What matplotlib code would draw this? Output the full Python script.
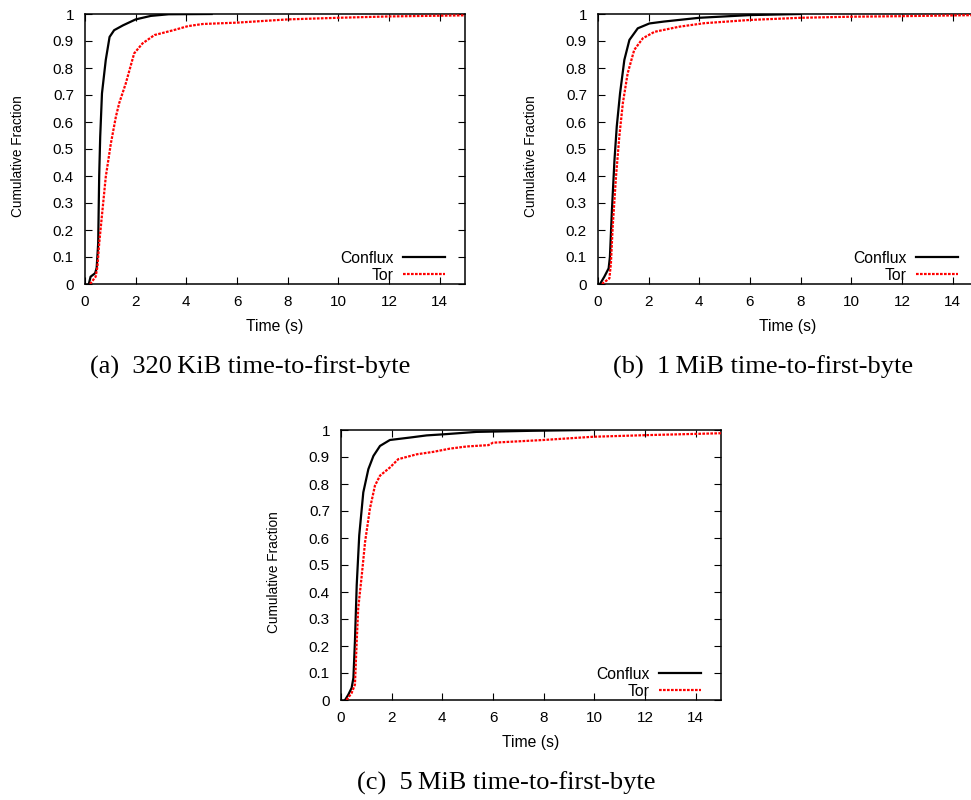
import matplotlib
matplotlib.use("Agg")
import matplotlib.pyplot as plt
from matplotlib.ticker import FuncFormatter

plt.rcParams['font.family'] = ['Liberation Sans', 'DejaVu Sans']

# time-to-first-byte CDFs, times in seconds
a_conflux_t = [0.15, 0.22, 0.4, 0.46, 0.52, 0.56, 0.6, 0.67, 0.82, 0.97, 1.15, 1.5, 2.0, 2.6, 3.3, 5.0]
a_conflux_f = [0.0, 0.027, 0.04, 0.06, 0.15, 0.40, 0.545, 0.706, 0.83, 0.915, 0.94, 0.958, 0.98, 0.993, 0.999, 1.0]
a_tor_t = [0.2, 0.42, 0.49, 0.56, 0.69, 0.82, 1.02, 1.22, 1.35, 1.61, 1.94, 2.27, 2.74, 3.53, 4.06, 4.65,
           6.0, 8.0, 10.0, 12.0, 15.0]
a_tor_f = [0.0, 0.027, 0.064, 0.15, 0.274, 0.397, 0.52, 0.62, 0.67, 0.743, 0.854, 0.891, 0.922, 0.941, 0.955, 0.963,
           0.968, 0.98, 0.986, 0.991, 0.995]

b_conflux_t = [0.08, 0.25, 0.42, 0.47, 0.55, 0.65, 0.74, 0.87, 1.04, 1.24, 1.57, 2.03, 2.6, 4.0, 6.0, 8.0]
b_conflux_f = [0.0, 0.027, 0.058, 0.10, 0.274, 0.459, 0.583, 0.706, 0.83, 0.904, 0.947, 0.965, 0.972, 0.986, 0.996, 1.0]
b_tor_t = [0.16, 0.45, 0.51, 0.58, 0.71, 0.84, 0.98, 1.17, 1.43, 1.77, 2.23, 3.21, 4.2, 6.0, 8.0, 10.0, 12.0, 15.0]
b_tor_f = [0.0, 0.021, 0.077, 0.212, 0.397, 0.545, 0.669, 0.78, 0.867, 0.91, 0.934, 0.953, 0.966, 0.978, 0.986,
           0.99, 0.992, 0.996]

c_conflux_t = [0.16, 0.29, 0.42, 0.49, 0.55, 0.62, 0.72, 0.88, 1.08, 1.28, 1.54, 1.93, 2.72, 3.38, 4.04, 5.35, 7.5, 9.8]
c_conflux_f = [0.0, 0.02, 0.045, 0.082, 0.217, 0.425, 0.61, 0.769, 0.855, 0.904, 0.941, 0.963, 0.972, 0.98, 0.984,
               0.993, 0.997, 1.0]
c_tor_t = [0.22, 0.42, 0.55, 0.62, 0.68, 0.82, 0.95, 1.14, 1.34, 1.54, 1.93, 2.26, 2.99, 3.64, 4.3, 4.96, 5.82, 6.0,
           7.99, 9.96, 12.07, 15.0]
c_tor_f = [0.0, 0.026, 0.057, 0.217, 0.34, 0.462, 0.585, 0.708, 0.794, 0.831, 0.861, 0.892, 0.910, 0.919, 0.931,
           0.939, 0.944, 0.953, 0.963, 0.975, 0.981, 0.988]

captions = ['(a)  320\u2009KiB time-to-first-byte',
            '(b)  1\u2009MiB time-to-first-byte',
            '(c)  5\u2009MiB time-to-first-byte']

W, H = 971, 800
fig = plt.figure(figsize=(W / 100, H / 100), dpi=100)


def panel(left, top, ct, cf, tt, tf, caption):
    # left/top in pixels, plot area 380 x 270
    ax = fig.add_axes([left / W, 1 - (top + 270) / H, 380 / W, 270 / H])
    ax.plot(ct, cf, color='black', lw=1.6, label='Conflux', zorder=3)
    ax.plot(tt, tf, color='#ff0000', lw=1.6, linestyle=(0, (1.2, 0.6)), label='Tor', zorder=3)
    ax.set_xlim(0, 15)
    ax.set_ylim(0, 1)
    ax.set_xticks(range(0, 15, 2))
    ax.set_yticks([i / 10 for i in range(11)])
    ax.yaxis.set_major_formatter(FuncFormatter(lambda v, p: '%g' % round(v, 1)))
    ax.tick_params(direction='in', length=5, width=0.8, top=True, right=True,
                   labelsize=11, pad=8)
    for s in ax.spines.values():
        s.set_linewidth(1.1)
    ax.set_xlabel('Time (s)', fontsize=11.3, labelpad=7)
    ax.set_ylabel('Cumulative Fraction', fontsize=9.8)
    ax.yaxis.set_label_coords(-0.158, 0.475)
    # key sits bottom right, labels before the samples
    ax.legend(loc='lower right', bbox_to_anchor=(1 - 20 / 380, 0.005), frameon=False,
              markerfirst=False, fontsize=11.3, handlelength=2.7, handletextpad=0.6,
              labelspacing=0.12, borderpad=0, borderaxespad=0)
    fig.text((left + 165) / W, 1 - (top + 353) / H, caption, ha='center', va='center',
             family=['Liberation Serif', 'DejaVu Serif'], fontsize=19)
    return ax


panel(85, 14, a_conflux_t, a_conflux_f, a_tor_t, a_tor_f, captions[0])
panel(598, 14, b_conflux_t, b_conflux_f, b_tor_t, b_tor_f, captions[1])
panel(341, 430, c_conflux_t, c_conflux_f, c_tor_t, c_tor_f, captions[2])

fig.savefig('out.png', dpi=100)
